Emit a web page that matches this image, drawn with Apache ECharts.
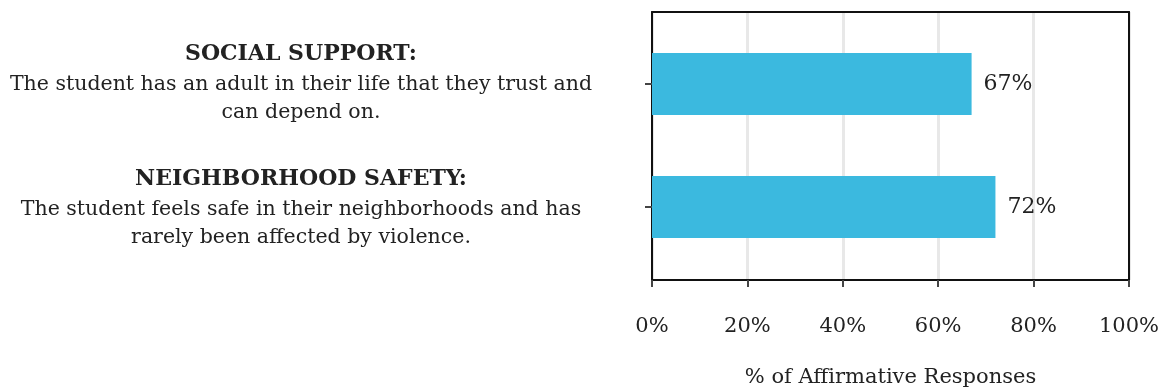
<!DOCTYPE html>
<html>
<head>
<meta charset="utf-8">
<script src="https://cdn.jsdelivr.net/npm/echarts@6/dist/echarts.min.js"></script>
<style>
  html, body { margin: 0; padding: 0; background: #fff; }
  #chart { width: 1167px; height: 390px; }
</style>
</head>
<body>
<div id="chart"></div>
<script>
// Survey indicators, top to bottom
const categories = ['Social Support', 'Neighborhood Safety'];
const affirmative = [67, 72];
const headings = ['SOCIAL SUPPORT:', 'NEIGHBORHOOD SAFETY:'];
const descriptions = [
  ['The student has an adult in their life that they trust and', 'can depend on.'],
  ['The student feels safe in their neighborhoods and has', 'rarely been affected by violence.']
];
const xTicks = [0, 20, 40, 60, 80, 100];
const xTitle = '% of Affirmative Responses';

const serif = '"DejaVu Serif", serif';
const ink = '#222';
const barColor = '#3bb9df';
const frame = { show: true, onZero: false, lineStyle: { color: '#111', width: 2 } };

const chart = echarts.init(document.getElementById('chart'), null, { renderer: 'canvas' });

// Descriptive text blocks beside the plot: heading then wrapped description
const blockTops = [54, 179];
const textBlocks = [];
headings.forEach((h, i) => {
  const lines = [{ t: h, bold: true }].concat(descriptions[i].map(t => ({ t, bold: false })));
  lines.forEach((ln, j) => {
    textBlocks.push({
      type: 'text',
      x: 301,
      y: blockTops[i] + (j === 0 ? 0 : 3 + 28 * j),
      style: {
        text: ln.t,
        align: 'center',
        verticalAlign: 'middle',
        fontFamily: serif,
        fontWeight: ln.bold ? 'bold' : 'normal',
        fontSize: ln.bold ? 22 : 20.5,
        fill: ink
      }
    });
  });
});

const gridLeft = 652, gridRight = 1167 - 1129;

chart.setOption({
  animation: false,
  graphic: textBlocks,
  grid: [
    // framed box with the percentage scale
    { left: gridLeft, right: gridRight, top: 12, height: 268, outerBoundsMode: 'none' },
    // band area holding the bars
    { left: gridLeft, right: gridRight, top: 22.5, height: 246, outerBoundsMode: 'none' }
  ],
  xAxis: [
    {
      gridIndex: 0, type: 'value', min: xTicks[0], max: xTicks[xTicks.length - 1], interval: 20,
      axisLine: frame,
      axisTick: { show: true, length: 7, lineStyle: { color: '#444', width: 2 } },
      splitLine: { show: true, lineStyle: { color: '#e8e8e8', width: 3 } },
      axisLabel: { formatter: '{value}%', margin: 36, fontFamily: serif, fontSize: 21, color: ink },
      name: xTitle, nameLocation: 'middle', nameGap: 87,
      nameTextStyle: { fontFamily: serif, fontSize: 21, color: ink }
    },
    {
      gridIndex: 0, type: 'value', position: 'top', min: 0, max: 100,
      axisLine: frame, axisTick: { show: false }, axisLabel: { show: false }, splitLine: { show: false }
    },
    {
      gridIndex: 1, type: 'value', min: xTicks[0], max: xTicks[xTicks.length - 1],
      show: false, splitLine: { show: false }
    }
  ],
  yAxis: [
    { gridIndex: 0, type: 'value', position: 'left', min: 0, max: 1, axisLine: frame,
      axisTick: { show: false }, axisLabel: { show: false }, splitLine: { show: false } },
    { gridIndex: 0, type: 'value', position: 'right', min: 0, max: 1, axisLine: frame,
      axisTick: { show: false }, axisLabel: { show: false }, splitLine: { show: false } },
    {
      gridIndex: 1, type: 'category', data: categories, inverse: true,
      axisLine: { show: false },
      axisTick: { show: true, alignWithLabel: true, length: 7, lineStyle: { color: '#444', width: 2 } },
      axisLabel: { show: false }
    }
  ],
  series: [{
    type: 'bar',
    xAxisIndex: 2, yAxisIndex: 2,
    data: affirmative,
    barWidth: 62,
    itemStyle: { color: barColor },
    label: {
      show: true, position: 'right', distance: 12,
      formatter: '{c}%', fontFamily: serif, fontSize: 22, color: ink
    }
  }]
});
</script>
</body>
</html>
